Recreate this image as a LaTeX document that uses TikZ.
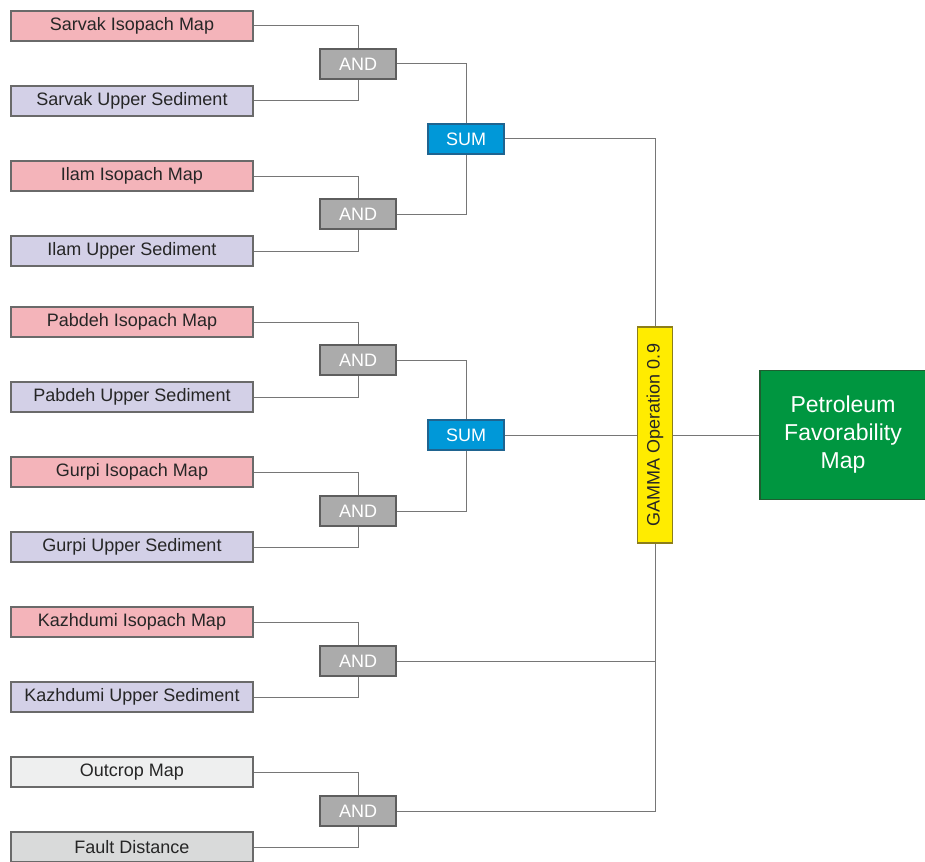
\documentclass[tikz,border=0pt]{standalone}
\usepackage{fontspec}
\setmainfont{Liberation Sans}
\begin{document}
\begin{tikzpicture}[x=1pt,y=-1pt,
  every node/.style={inner sep=0pt, font=\fontsize{18}{21}\selectfont},
  inbox/.style={draw=boxborder, line width=1.1pt, minimum width=242pt, minimum height=30pt, text=txt},
  iso/.style={inbox, fill=pinkf},
  sed/.style={inbox, fill=lavf},
  andbox/.style={draw=andborder, line width=1.1pt, fill=andf, minimum width=76pt, minimum height=30pt, text=white},
  sumbox/.style={draw=sumborder, line width=1.1pt, fill=sumf, minimum width=76pt, minimum height=30pt, text=white},
  link/.style={draw=linec, line width=1pt}]
\definecolor{pinkf}{HTML}{F4B4BA}
\definecolor{lavf}{HTML}{D3D0E7}
\definecolor{outf}{HTML}{EEEFEF}
\definecolor{faultf}{HTML}{D9DADA}
\definecolor{boxborder}{HTML}{6A6A6A}
\definecolor{andf}{HTML}{ABABAB}
\definecolor{andborder}{HTML}{5E5E5E}
\definecolor{sumf}{HTML}{0098D8}
\definecolor{sumborder}{HTML}{1F6490}
\definecolor{gamf}{HTML}{FFEC00}
\definecolor{gamborder}{HTML}{8C7E1A}
\definecolor{greenf}{HTML}{009640}
\definecolor{greenborder}{HTML}{1E5E30}
\definecolor{linec}{HTML}{767676}
\definecolor{txt}{HTML}{262626}
\useasboundingbox (0,0) rectangle (925,861);
\fill[white] (0,0) rectangle (925,861);
% inputs
\node[iso] (s1) at (132,26) {Sarvak Isopach Map};
\node[sed] (s2) at (132,101) {Sarvak Upper Sediment};
\node[iso] (i1) at (132,176) {Ilam Isopach Map};
\node[sed] (i2) at (132,251) {Ilam Upper Sediment};
\node[iso] (p1) at (132,322) {Pabdeh Isopach Map};
\node[sed] (p2) at (132,397) {Pabdeh Upper Sediment};
\node[iso] (g1) at (132,472) {Gurpi Isopach Map};
\node[sed] (g2) at (132,547) {Gurpi Upper Sediment};
\node[iso] (k1) at (132,622) {Kazhdumi Isopach Map};
\node[sed] (k2) at (132,697) {Kazhdumi Upper Sediment};
\node[inbox, fill=outf] (o1) at (132,772) {Outcrop Map};
\node[inbox, fill=faultf] (f1) at (132,847) {Fault Distance};
% AND
\node[andbox] (a1) at (358,64) {AND};
\node[andbox] (a2) at (358,214) {AND};
\node[andbox] (a3) at (358,360) {AND};
\node[andbox] (a4) at (358,511) {AND};
\node[andbox] (a5) at (358,661) {AND};
\node[andbox] (a6) at (358,811) {AND};
% SUM
\node[sumbox] (m1) at (466,139) {SUM};
\node[sumbox] (m2) at (466,435) {SUM};
% gamma
\node[draw=gamborder, line width=1.1pt, fill=gamf, rotate=90, minimum width=216pt, minimum height=35pt, text=txt] (gm) at (655,435) {GAMMA Operation 0.9};
% result
\node[draw=greenborder, line width=1.1pt, fill=greenf, minimum width=166pt, minimum height=129pt, text=white, align=center, font=\fontsize{23}{28}\selectfont] (res) at (843,435) {Petroleum\\Favorability\\Map};
% connectors
\draw[link] (s1.east) -| (a1.north);
\draw[link] (s2.east) -| (a1.south);
\draw[link] (i1.east) -| (a2.north);
\draw[link] (i2.east) -| (a2.south);
\draw[link] (p1.east) -| (a3.north);
\draw[link] (p2.east) -| (a3.south);
\draw[link] (g1.east) -| (a4.north);
\draw[link] (g2.east) -| (a4.south);
\draw[link] (k1.east) -| (a5.north);
\draw[link] (k2.east) -| (a5.south);
\draw[link] (o1.east) -| (a6.north);
\draw[link] (f1.east) -| (a6.south);
\draw[link] (a1.east) -| (m1.north);
\draw[link] (a2.east) -| (m1.south);
\draw[link] (a3.east) -| (m2.north);
\draw[link] (a4.east) -| (m2.south);
\draw[link] (m1.east) -| (gm.east);
\draw[link] (m2.east) -- (gm.north);
\draw[link] (gm.south) -- (res.west);
\draw[link] (gm.west) |- (a6.east);
\draw[link] (a5.east) -- (a5.east -| gm.west);
\end{tikzpicture}
\end{document}
